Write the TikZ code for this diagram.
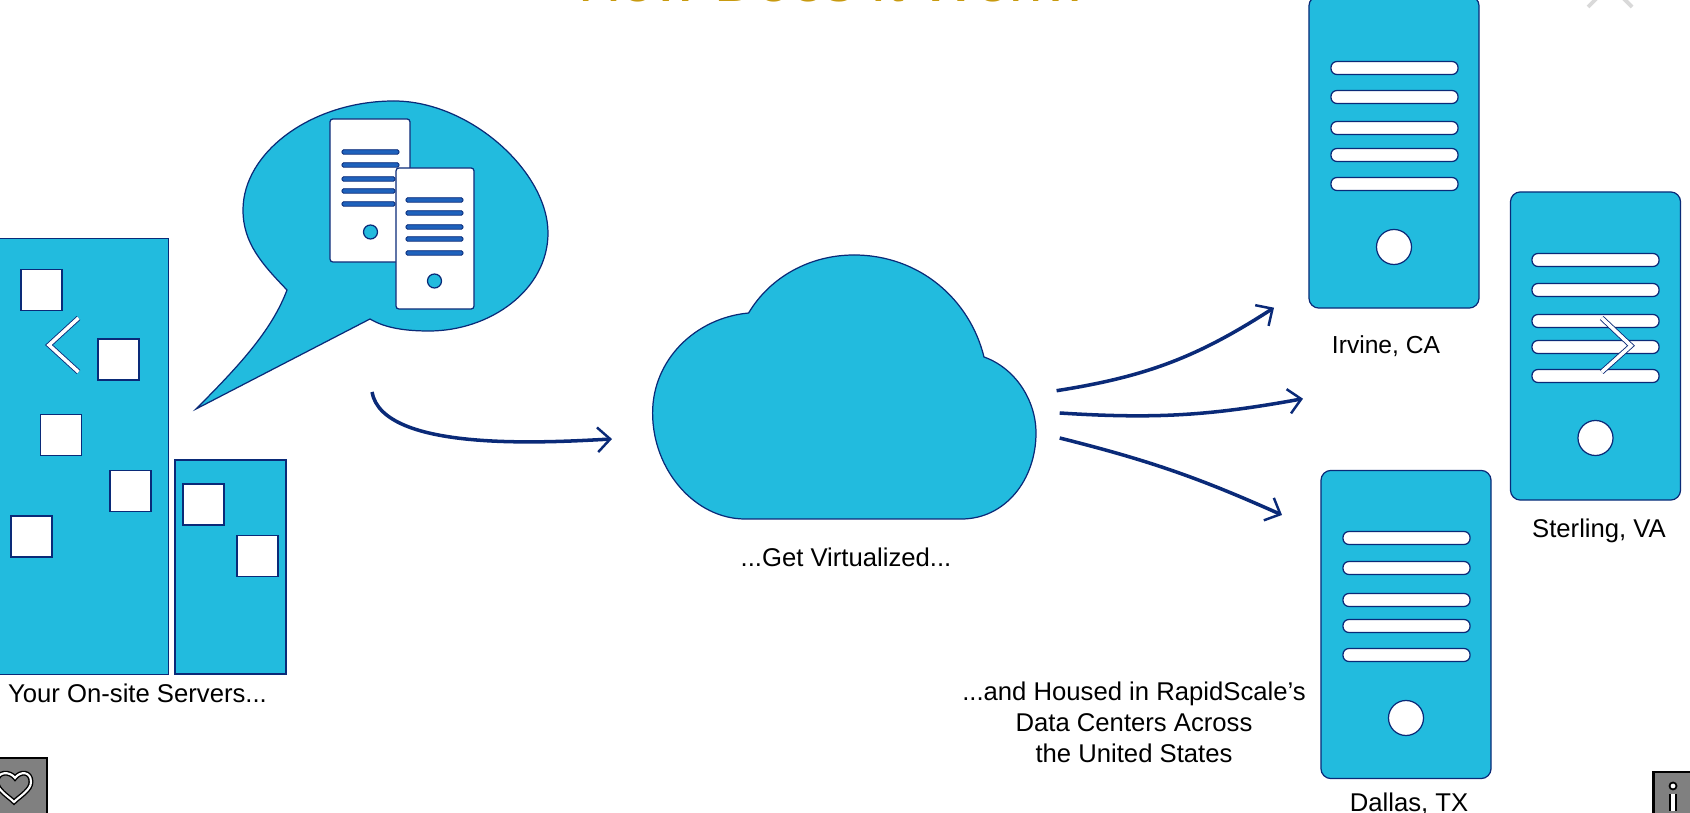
\documentclass[tikz,border=0pt]{standalone}
\usepackage{fontspec}
\usetikzlibrary{arrows.meta}
\setmainfont{Liberation Sans}
\definecolor{skyfill}{HTML}{22BBDE}
\definecolor{navyline}{HTML}{0A2A78}
\definecolor{slotblue}{HTML}{1F62BC}
\definecolor{btngrey}{HTML}{808080}
\definecolor{titlegold}{HTML}{C89A10}
\begin{document}
\begin{tikzpicture}[x=0.01cm,y=-0.01cm]
\useasboundingbox (0,0) rectangle (1690,813);
\tikzset{bodyline/.style={fill=skyfill, draw=navyline, line width=0.35pt}}
\begin{scope}[every node/.style={rectangle, bodyline, inner sep=0cm}]
    \node[minimum width=1.69cm, minimum height=4.35cm] (tower) at (84,456.5) {};
    \node[minimum width=1.11cm, minimum height=2.14cm] (annex) at (230.5,567) {};
\end{scope}
\begin{scope}[every node/.style={rectangle, fill=white, draw=navyline, line width=0.35pt, inner sep=0cm, minimum width=0.41cm, minimum height=0.41cm}]
    \node (w1) at (41.5,290) {};
    \node (w2) at (118.5,359.5) {};
    \node (w3) at (61,435) {};
    \node (w4) at (130.5,491) {};
    \node (w5) at (31.5,536.5) {};
    \node (w6) at (203.5,504.5) {};
    \node (w7) at (257.5,556) {};
\end{scope}
\path[bodyline] (287,290) .. controls (262,264) and (243,243) .. (243,210)
    .. controls (243,152) and (312,101) .. (394,101)
    .. controls (470,101) and (548,172) .. (548,233)
    .. controls (548,290) and (490,331) .. (429,331)
    .. controls (405,331) and (385,328) .. (370,319)
    -- (196,409)
    .. controls (240,365) and (272,330) .. (287,290) -- cycle;
\path[bodyline] (745,519) -- (961.5,519)
    .. controls (1005,519) and (1036,480) .. (1036,433)
    .. controls (1036,400) and (1015,368) .. (984,357)
    .. controls (970,300) and (920,255) .. (854,255)
    .. controls (810,255) and (770,277) .. (748.6,313)
    .. controls (695,318) and (652.6,360) .. (652.6,413)
    .. controls (652.6,470) and (695,519) .. (745,519) -- cycle;
\begin{scope}[every node/.style={rectangle, rounded corners=0.03cm, fill=white, draw=navyline, line width=0.35pt, inner sep=0cm}]
    \node[minimum width=0.80cm, minimum height=1.43cm] (rackA) at (370,190.5) {};
    \node[minimum width=0.78cm, minimum height=1.41cm] (rackB) at (435,238.5) {};
\end{scope}
\begin{scope}[every node/.style={rectangle, rounded corners=0.015cm, fill=slotblue, draw=navyline, line width=0.25pt, inner sep=0cm, minimum width=0.57cm, minimum height=0.045cm}]
    \node (a1) at (370.5,152) {};
    \node (a2) at (370.5,165) {};
    \node[minimum width=0.53cm] (a3) at (368.5,179) {};
    \node[minimum width=0.53cm] (a4) at (368.5,191) {};
    \node[minimum width=0.53cm] (a5) at (368.5,204) {};
    \node (b1) at (434.5,200) {};
    \node (b2) at (434.5,213) {};
    \node (b3) at (434.5,227) {};
    \node (b4) at (434.5,239) {};
    \node (b5) at (434.5,253) {};
\end{scope}
\begin{scope}[every node/.style={circle, fill=skyfill, draw=navyline, line width=0.35pt, inner sep=0cm, minimum size=0.14cm}]
    \node (dotA) at (370.5,232) {};
    \node (dotB) at (434.5,281) {};
\end{scope}
\begin{scope}[every node/.style={rectangle, rounded corners=0.1cm, bodyline, inner sep=0cm, minimum width=1.70cm, minimum height=3.08cm}]
    \node[minimum height=3.12cm] (irvine) at (1394,152) {};
    \node (sterling) at (1595.5,346) {};
    \node (dallas) at (1406,624.5) {};
\end{scope}
\begin{scope}[every node/.style={rectangle, rounded corners=0.06cm, fill=white, draw=navyline, line width=0.35pt, inner sep=0cm, minimum width=1.27cm, minimum height=0.13cm}]
    \node (i1) at (1394.5,68) {};
    \node (i2) at (1394.5,97) {};
    \node (i3) at (1394.5,128) {};
    \node (i4) at (1394.5,155) {};
    \node (i5) at (1394.5,184) {};
    \node (s1) at (1595.5,260) {};
    \node (s2) at (1595.5,290) {};
    \node (s3) at (1595.5,321) {};
    \node (s4) at (1595.5,347) {};
    \node (s5) at (1595.5,376) {};
    \node (d1) at (1406.5,538) {};
    \node (d2) at (1406.5,568) {};
    \node (d3) at (1406.5,600) {};
    \node (d4) at (1406.5,626) {};
    \node (d5) at (1406.5,655) {};
\end{scope}
\begin{scope}[every node/.style={circle, fill=white, draw=navyline, line width=0.35pt, inner sep=0cm, minimum size=0.35cm}]
    \node (dotI) at (1394,247) {};
    \node (dotS) at (1595.5,438) {};
    \node (dotD) at (1406,718) {};
\end{scope}
\begin{scope}[every node/.style={inner sep=0cm, anchor=base, font=\fontsize{7.3pt}{8.8pt}\selectfont}]
    \node (onsite) at (137.5,703) {Your On-site Servers...};
    \node (virtual) at (846,567) {...Get Virtualized...};
    \node[font=\fontsize{7pt}{8.8pt}\selectfont] (lblI) at (1386,354) {Irvine, CA};
    \node (lblS) at (1599,538) {Sterling, VA};
    \node (lblD) at (1409,812) {Dallas, TX};
    \node[anchor=center, align=center] (housed) at (1134,722) {...and Housed in RapidScale’s\\Data Centers Across\\the United States};
    \node[font=\fontsize{17pt}{19pt}\selectfont, text=titlegold] (title) at (835.5,2) {How Does It Work?};
\end{scope}
\coordinate (p0) at (372,392);
\coordinate (p1) at (612,439);
\coordinate (q0) at (1056.6,390.7);
\coordinate (q1) at (1274,307.7);
\coordinate (q2) at (1059.7,413);
\coordinate (q3) at (1303,398.7);
\coordinate (q4) at (1059.7,438);
\coordinate (q5) at (1282,515);
\begin{scope}[every edge/.style={draw=navyline, line width=1pt, -{Straight Barb[length=3.6pt, width=7pt, line width=0.7pt]}}]
    \path (p0) edge[out=-80, in=183, looseness=0.65] (p1);
    \path (q0) edge[bend right=12] (q1);
    \path (q2) edge[bend right=7] (q3);
    \path (q4) edge[bend left=5] (q5);
\end{scope}
\draw[navyline, line width=1.5pt] (78.5,318) -- (49,345) -- (78.5,372);
\draw[white, line width=1pt] (78.5,318) -- (49,345) -- (78.5,372);
\draw[navyline, line width=1.5pt] (1601.7,318) -- (1631,345.7) -- (1601.7,372);
\draw[white, line width=1pt] (1601.7,318) -- (1631,345.7) -- (1601.7,372);
\draw[black!15, line width=1.1pt] (1588,7) -- (1610,-15) -- (1632,7);
\fill[btngrey, draw=black, line width=0.85pt] (-5,758) rectangle (47,820);
\fill[btngrey, draw=black, line width=0.85pt] (1653,772) rectangle (1700,820);
\path[draw=black, line width=1.4pt] (15,778) .. controls (20,771) and (31,771) .. (31,782) .. controls (31,790) and (20,796) .. (14,802) .. controls (8,796) and (-3,790) .. (-3,782) .. controls (-3,771) and (10,771) .. (15,778) -- cycle;
\path[draw=white, line width=0.6pt] (15,778) .. controls (20,771) and (31,771) .. (31,782) .. controls (31,790) and (20,796) .. (14,802) .. controls (8,796) and (-3,790) .. (-3,782) .. controls (-3,771) and (10,771) .. (15,778) -- cycle;
\draw[black, line width=2pt] (1673,794) -- (1673,811);
\draw[white, line width=1.1pt] (1673,794) -- (1673,811);
\fill[white, draw=black, line width=0.5pt] (1673,786) circle (0.035cm);
\end{tikzpicture}
\end{document}
